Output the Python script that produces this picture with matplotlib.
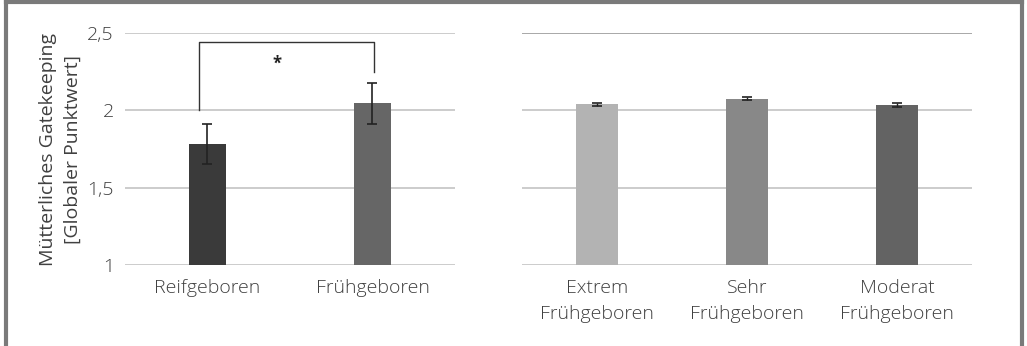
import matplotlib.pyplot as plt
from matplotlib.lines import Line2D

plt.rcParams['font.family'] = ['Open Sans', 'DejaVu Sans']
plt.rcParams['font.weight'] = 'light'

# left panel
groups = ['Reifgeboren', 'Frühgeboren']
means = [1.785, 2.045]
errs = [0.13, 0.13]
colors_left = ['#3a3a3a', '#666666']

# right panel
sub_groups = ['Extrem\nFrühgeboren', 'Sehr\nFrühgeboren', 'Moderat\nFrühgeboren']
sub_means = [2.04, 2.075, 2.035]
sub_errs = [0.01, 0.01, 0.01]
colors_right = ['#b3b3b3', '#888888', '#636363']

yticks = [1, 1.5, 2, 2.5]
yticklabels = ['1', '1,5', '2', '2,5']

txt = '#404040'
fs = 14
fig = plt.figure(figsize=(10.27, 3.46), dpi=100)
ax1 = fig.add_axes([0.1217, 0.234, 0.3213, 0.6705])
ax2 = fig.add_axes([0.508, 0.234, 0.4385, 0.6705])

ax1.bar(range(2), [m - 1 for m in means], bottom=1, width=0.226, color=colors_left, zorder=3)
ax1.errorbar(range(2), means, yerr=errs, fmt='none', ecolor='#222222', elinewidth=1.2,
             capsize=3.5, capthick=1.2, zorder=4)
ax1.set_xlim(-0.5, 1.5)

ax2.bar(range(3), [m - 1 for m in sub_means], bottom=1, width=0.28, color=colors_right, zorder=3)
ax2.errorbar(range(3), sub_means, yerr=sub_errs, fmt='none', ecolor='#222222', elinewidth=1.0,
             capsize=3.5, capthick=1.2, zorder=4)
ax2.set_xlim(-0.5, 2.5)

for ax, labels in [(ax1, groups), (ax2, sub_groups)]:
    ax.set_ylim(1, 2.5)
    ax.set_yticks(yticks)
    ax.set_xticks(range(len(labels)))
    ax.set_xticklabels(labels, fontsize=fs, color=txt, linespacing=1.6)
    ax.grid(axis='y', color='#c4c4c4', linewidth=1.2, zorder=0)
    ax.tick_params(length=0, pad=10)
    for s in ax.spines.values():
        s.set_visible(False)

ax1.set_yticklabels(yticklabels, fontsize=fs, color=txt)
ax1.tick_params(axis='y', pad=8)
ax2.set_yticklabels([])
ax2.get_ygridlines()[-1].set_color('#999999')
ax1.set_ylabel('Mütterliches Gatekeeping\n[Globaler Punktwert]', fontsize=fs, color=txt,
               labelpad=4, linespacing=1.45)

# significance bracket
ax1.plot([-0.05, -0.05, 1.01, 1.01], [2.0, 2.44, 2.44, 2.25], color='#333333', lw=1, zorder=5)
ax1.text(0.42, 2.3, '*', ha='center', va='center', fontsize=12, fontweight='bold', color='#222222')

# outer frame
for xs, ys in [([0.006, 0.006], [0, 0.995]), ([0.006, 0.995], [0.993, 0.993]), ([0.995, 0.995], [0, 0.995])]:
    fig.add_artist(Line2D(xs, ys, color='#7a7a7a', lw=3, transform=fig.transFigure))

fig.savefig('out.png', dpi=100)
